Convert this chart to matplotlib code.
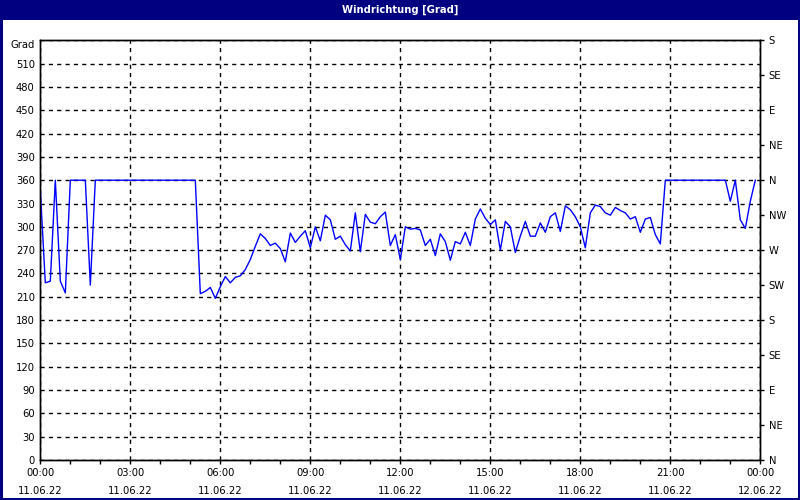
import numpy as np
import matplotlib
matplotlib.use("Agg")
import matplotlib.pyplot as plt
from matplotlib.patches import Rectangle

# ---- data (10-minute samples, 11.06.22 00:00 .. 23:50) ----
wind_dir = [
    347, 228, 230, 360, 230, 215, 360, 360, 360, 360,
    225, 360, 360, 360, 360, 360, 360, 360, 360, 360,
    360, 360, 360, 360, 360, 360, 360, 360, 360, 360,
    360, 360, 214, 217, 222, 208, 223, 236, 228, 235,
    237, 245, 258, 275, 291, 285, 276, 279, 272, 255,
    292, 280, 288, 295, 273, 300, 282, 315, 309, 284,
    288, 277, 269, 318, 268, 316, 306, 304, 313, 319,
    276, 290, 258, 300, 297, 298, 296, 276, 284, 263,
    291, 281, 257, 281, 278, 293, 276, 310, 323, 311,
    303, 309, 270, 307, 300, 267, 288, 307, 288, 288,
    305, 293, 313, 318, 294, 327, 322, 313, 300, 273,
    318, 328, 326, 318, 315, 325, 321, 318, 310, 313,
    293, 310, 312, 290, 278, 360, 360, 360, 360, 360,
    360, 360, 360, 360, 360, 360, 360, 360, 333, 360,
    309, 298, 333, 360,
]
sample_minutes = 10
x_tick_hours = [0, 3, 6, 9, 12, 15, 18, 21, 24]
x_tick_labels = ["00:00\n11.06.22", "03:00\n11.06.22", "06:00\n11.06.22",
                 "09:00\n11.06.22", "12:00\n11.06.22", "15:00\n11.06.22",
                 "18:00\n11.06.22", "21:00\n11.06.22", "00:00\n12.06.22"]
left_ticks = list(range(0, 541, 30))
left_labels = [str(v) for v in range(0, 511, 30)] + ["Grad"]
right_ticks = list(range(0, 541, 45))
right_labels = ["N", "NE", "E", "SE", "S", "SW", "W", "NW",
                "N", "NE", "E", "SE", "S"]
title = "Windrichtung [Grad]"

hours = np.arange(len(wind_dir)) * sample_minutes / 60.0

NAVY = "#000080"
FS = 7.2
plt.rcParams['font.family'] = ['DejaVu Sans']

fig = plt.figure(figsize=(8, 5), dpi=100)
fig.patch.set_facecolor("white")

# title bar
fig.patches.append(Rectangle((0, 0.96), 1, 0.04, transform=fig.transFigure,
                             facecolor=NAVY, edgecolor="none", zorder=0))
fig.text(0.5, 0.98, title, color="white", fontweight="bold", fontsize=FS,
         ha="center", va="center")
# outer border
fig.patches.append(Rectangle((0.0015, 0.002), 0.997, 0.996, transform=fig.transFigure,
                             facecolor="none", edgecolor=NAVY, linewidth=2.2, zorder=5))

ax = fig.add_axes([0.0504, 0.08, 0.9, 0.8394])
ax.plot(hours, wind_dir, color="#0000FF", linewidth=1.0, zorder=3)
ax.set_xlim(0, 24)
ax.set_ylim(0, 540)

ax.set_yticks(left_ticks)
ax.set_yticklabels(left_labels, fontsize=FS)
ax.tick_params(axis="y", length=0, pad=4)
ax.get_yticklabels()[-1].set_va("top")

ax.set_xticks(x_tick_hours)
ax.set_xticklabels(x_tick_labels, fontsize=FS, linespacing=2.0)
ax.set_xticks(range(0, 25), minor=True)
ax.tick_params(axis="x", which="both", direction="out", length=3, width=1, pad=3)

ax.grid(True, which="major", color="black", linestyle=(0, (3, 3)), linewidth=1)
for s in ax.spines.values():
    s.set_color("black")
    s.set_linewidth(1.0)

ax2 = ax.twinx()
ax2.set_ylim(0, 540)
ax2.set_yticks(right_ticks)
ax2.set_yticklabels(right_labels, fontsize=FS)
ax2.tick_params(axis="y", direction="out", length=3, width=1, pad=3)
for s in ax2.spines.values():
    s.set_color("black")
    s.set_linewidth(1.0)

fig.savefig("out.png", dpi=100, facecolor="white")
